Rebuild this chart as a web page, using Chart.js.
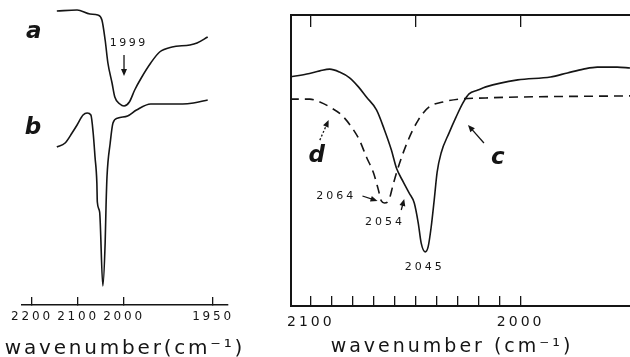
<!DOCTYPE html>
<html>
<head>
<meta charset="utf-8">
<script src="https://cdn.jsdelivr.net/npm/chart.js@4.4.1/dist/chart.umd.min.js"></script>
<style>
  html, body { margin: 0; padding: 0; background: #fff; width: 630px; height: 357px; overflow: hidden; }
  #left { position: absolute; left: 0; top: 0; width: 250px; height: 357px; }
  #right { position: absolute; left: 274px; top: 0; width: 356px; height: 357px; }
</style>
</head>
<body>
<div id="left"><canvas id="chartLeft" width="250" height="357"></canvas></div>
<div id="right"><canvas id="chartRight" width="356" height="357"></canvas></div>
<script>
// panel izquierdo: espectros a y b (escala de x quebrada por debajo de 2000)
const leftTicks = [2200, 2100, 2000, 1950];
const aWavenumber = [2146, 2102, 2074, 2057, 2048, 2041, 2035, 2026, 2020, 2009, 2000, 1997, 1994, 1990, 1985, 1980, 1973, 1963, 1959, 1953];
const aSignal = [294, 295, 291, 290, 285, 265, 242, 222, 208, 201, 199, 203, 215, 228, 242, 253, 258, 260, 262, 268];
const bWavenumber = [2146, 2128, 2113, 2102, 2089, 2080, 2072, 2067, 2063, 2059, 2058, 2053, 2046, 2041, 2039, 2037, 2030, 2024, 2013, 1998, 1993, 1985, 1976, 1967, 1961, 1953];
const bSignal = [158, 162, 172, 180, 190, 192, 190, 172, 148, 122, 103, 93, 19, 62, 100, 128, 162, 182, 187, 189, 195, 201, 201, 201, 202, 205];

// panel derecho: espectros c (continuo) y d (trazos)
const rightMajorTicks = [2100, 2050, 2000];
const rightMinorTicks = [2100, 2090, 2080, 2070, 2060, 2050, 2040, 2030, 2020, 2010, 2000];
const rightTickLabels = [2100, 2000];
const cWavenumber = [2110.0, 2101.9, 2095.7, 2091.0, 2086.3, 2081.5, 2077.3, 2073.5, 2068.7, 2064.9, 2061.6, 2059.2, 2055.9, 2053.1, 2050.7, 2048.8, 2047.4, 2045.5, 2044.1, 2042.7, 2041.2, 2039.8, 2037.9, 2034.1, 2030.8, 2027.5, 2024.6, 2020.4, 2016.6, 2001.4, 1985.8, 1977.7, 1970.1, 1963.5, 1954.0, 1947.9];
const cSignal = [78.7, 79.7, 80.8, 81.4, 80.4, 78.4, 75.3, 71.8, 67.4, 60.5, 53.6, 47.4, 42.6, 38.8, 35.4, 28.5, 21.6, 18.6, 20.3, 26.8, 36.4, 46.0, 52.6, 59.5, 64.9, 69.8, 72.9, 74.2, 75.3, 77.7, 78.7, 80.1, 81.4, 82.1, 82.1, 81.8];
const dWavenumber = [2110.0, 2100.5, 2095.7, 2091.0, 2085.3, 2080.6, 2076.8, 2073.5, 2070.1, 2067.8, 2066.4, 2064.9, 2063.0, 2060.7, 2058.3, 2053.6, 2048.8, 2043.6, 2037.0, 2029.4, 2016.6, 2001.4, 1947.9];
const dSignal = [71.1, 71.1, 70.1, 68.4, 65.6, 61.5, 57.0, 51.2, 45.7, 39.9, 36.1, 35.4, 36.1, 41.9, 47.8, 57.0, 63.9, 68.4, 70.1, 71.1, 71.5, 71.8, 72.2];

const INK = "#151515";
const FONT = "'DejaVu Sans', sans-serif";

// el tramo 2000–1950 del eje izquierdo está dibujado ~1.93 veces más ancho
const LOW_STRETCH = 1.935;
const pos = (w) => (w >= 2000 ? (2200 - w) / 100 : 2 + ((2000 - w) / 50) * LOW_STRETCH);

const toPoints = (xs, ys, fx = (v) => v) => xs.map((x, i) => ({ x: fx(x), y: ys[i] }));

// espaciado entre letras (como el rotulado del original)
const spacingPlugin = {
  id: "spacing",
  beforeDraw(chart, args, opts) {
    chart.ctx.letterSpacing = (opts.px || 0) + "px";
  },
};

// textos y flechas sobre el gráfico, ubicados en unidades de los ejes
const notesPlugin = {
  id: "notes",
  afterDatasetsDraw(chart, args, opts) {
    const { ctx } = chart;
    const xs = chart.scales.x;
    const ys = chart.scales.y;
    const fx = opts.toAxis || ((v) => v);
    const P = (x, y) => [xs.getPixelForValue(fx(x)), ys.getPixelForValue(y)];
    ctx.save();
    ctx.fillStyle = INK;
    ctx.strokeStyle = INK;
    (opts.texts || []).forEach((t) => {
      const [px, py] = P(t.x, t.y);
      const sp = t.spacing || 0;
      ctx.font = t.font;
      ctx.letterSpacing = sp + "px";
      ctx.textAlign = "center";
      ctx.textBaseline = "middle";
      ctx.fillText(t.text, px + sp / 2, py);
    });
    ctx.letterSpacing = "0px";
    (opts.arrows || []).forEach((a) => {
      const [x1, y1] = P(a.x1, a.y1);
      const [x2, y2] = P(a.x2, a.y2);
      const ang = Math.atan2(y2 - y1, x2 - x1);
      const L = 7, W = 3;
      ctx.lineWidth = 1.3;
      ctx.setLineDash(a.dash || []);
      ctx.beginPath();
      ctx.moveTo(x1, y1);
      ctx.lineTo(x2 - Math.cos(ang) * L * 0.6, y2 - Math.sin(ang) * L * 0.6);
      ctx.stroke();
      ctx.setLineDash([]);
      ctx.beginPath();
      ctx.moveTo(x2, y2);
      ctx.lineTo(x2 - Math.cos(ang) * L - Math.sin(ang) * W, y2 - Math.sin(ang) * L + Math.cos(ang) * W);
      ctx.lineTo(x2 - Math.cos(ang) * L + Math.sin(ang) * W, y2 - Math.sin(ang) * L - Math.cos(ang) * W);
      ctx.closePath();
      ctx.fill();
    });
    ctx.restore();
  },
};

Chart.register(spacingPlugin, notesPlugin);

const lineStyle = {
  borderColor: INK,
  borderWidth: 1.6,
  pointRadius: 0,
  fill: false,
  cubicInterpolationMode: "monotone",
};

const spacerAxis = (position, width) => ({
  position,
  display: true,
  ticks: { display: false },
  grid: { display: false, drawTicks: false },
  border: { display: false },
  afterFit: (s) => { s.width = width; },
});

// ---- panel izquierdo
new Chart(document.getElementById("chartLeft"), {
  type: "line",
  data: {
    datasets: [
      { label: "a", data: toPoints(aWavenumber, aSignal, pos), ...lineStyle },
      { label: "b", data: toPoints(bWavenumber, bSignal, pos), ...lineStyle },
    ],
  },
  options: {
    responsive: false,
    animation: false,
    layout: { padding: { top: 5, bottom: 0, left: 0, right: 0 } },
    scales: {
      x: {
        type: "linear",
        min: -0.217,
        max: 4.26,
        afterBuildTicks: (s) => { s.ticks = leftTicks.map((w) => ({ value: pos(w) })); },
        afterFit: (s) => { s.height = 36.5; },
        ticks: {
          autoSkip: false,
          maxRotation: 0,
          padding: 13,
          color: INK,
          font: { family: FONT, size: 12 },
          callback: (v, i) => leftTicks[i],
        },
        grid: { drawOnChartArea: false, drawTicks: true, tickLength: -8, color: INK, lineWidth: 1.3 },
        border: { display: true, color: INK, width: 1.5 },
      },
      y: { ...spacerAxis("left", 22), min: 0, max: 300 },
      yr: { ...spacerAxis("right", 22), min: 0, max: 300 },
    },
    plugins: {
      legend: { display: false },
      tooltip: { enabled: false },
      spacing: { px: 2.8 },
      title: {
        display: true,
        position: "bottom",
        text: "wavenumber(cm\u207B\u00B9)",
        color: INK,
        font: { family: FONT, size: 20, weight: "normal", lineHeight: 0.7 },
        padding: { top: 0, bottom: 1.5 },
      },
      notes: {
        toAxis: pos,
        texts: [
          { x: 2196, y: 273, text: "a", font: `italic bold 23px ${FONT}` },
          { x: 2198, y: 177, text: "b", font: `italic bold 23px ${FONT}` },
          { x: 1998, y: 261.5, text: "1999", font: `11px ${FONT}`, spacing: 2.5 },
        ],
        arrows: [{ x1: 2000, y1: 250, x2: 2000, y2: 229 }],
      },
    },
  },
});

// ---- panel derecho
new Chart(document.getElementById("chartRight"), {
  type: "line",
  data: {
    datasets: [
      { label: "c", data: toPoints(cWavenumber, cSignal), ...lineStyle },
      { label: "d", data: toPoints(dWavenumber, dSignal), ...lineStyle, borderDash: [9, 6] },
    ],
  },
  options: {
    responsive: false,
    animation: false,
    layout: { padding: { top: 15, bottom: 0, left: 0, right: 0 } },
    scales: {
      x: {
        type: "linear",
        reverse: true,
        min: 1947.9,
        max: 2109.5,
        afterBuildTicks: (s) => { s.ticks = rightMinorTicks.map((w) => ({ value: w })); },
        afterFit: (s) => { s.height = 34.7; },
        ticks: {
          autoSkip: false,
          maxRotation: 0,
          padding: 18,
          color: INK,
          font: { family: FONT, size: 14 },
          callback: (v) => (rightTickLabels.includes(v) ? String(v) : ""),
        },
        grid: { drawOnChartArea: false, drawTicks: true, tickLength: -10, color: INK, lineWidth: 1.3 },
        border: { display: true, color: INK, width: 2 },
      },
      x2: {
        type: "linear",
        position: "top",
        reverse: true,
        min: 1947.9,
        max: 2109.5,
        afterBuildTicks: (s) => { s.ticks = rightMajorTicks.map((w) => ({ value: w })); },
        afterFit: (s) => { s.height = 0; },
        ticks: { display: false },
        grid: { drawOnChartArea: false, drawTicks: true, tickLength: -12, color: INK, lineWidth: 1.3 },
        border: { display: true, color: INK, width: 2 },
      },
      y: {
        position: "left",
        min: 0,
        max: 100,
        ticks: { display: false },
        grid: { display: false, drawTicks: false },
        border: { display: true, color: INK, width: 2 },
        afterFit: (s) => { s.width = 15; },
      },
    },
    plugins: {
      legend: { display: false },
      tooltip: { enabled: false },
      spacing: { px: 3 },
      title: {
        display: true,
        position: "bottom",
        text: "wavenumber (cm\u207B\u00B9)",
        color: INK,
        font: { family: FONT, size: 19, weight: "normal", lineHeight: 0.7 },
        padding: { top: 0, bottom: 3 },
      },
      notes: {
        texts: [
          { x: 2097.2, y: 51.5, text: "d", font: `italic bold 23px ${FONT}` },
          { x: 2010.9, y: 50.9, text: "c", font: `italic bold 23px ${FONT}` },
          { x: 2088.6, y: 37.8, text: "2064", font: `11px ${FONT}`, spacing: 3 },
          { x: 2065.4, y: 28.9, text: "2054", font: `11px ${FONT}`, spacing: 3 },
          { x: 2046.4, y: 13.4, text: "2045", font: `11px ${FONT}`, spacing: 3 },
        ],
        arrows: [
          { x1: 2095.7, y1: 57.0, x2: 2091.5, y2: 63.9, dash: [2, 2] },
          { x1: 2075.4, y1: 37.8, x2: 2068.2, y2: 36.1 },
          { x1: 2056.9, y1: 33.0, x2: 2055.5, y2: 36.8 },
          { x1: 2017.5, y1: 56.0, x2: 2025.1, y2: 62.2 },
        ],
      },
    },
  },
});
</script>
</body>
</html>
